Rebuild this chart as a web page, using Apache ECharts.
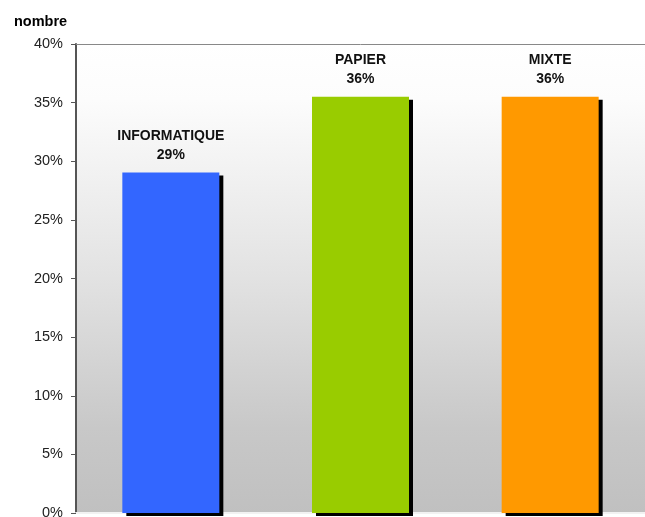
<!DOCTYPE html>
<html>
<head>
<meta charset="utf-8">
<script src="https://cdn.jsdelivr.net/npm/echarts@6/dist/echarts.min.js"></script>
<style>
html,body{margin:0;padding:0;background:#fff;}
#main{width:645px;height:517px;}
</style>
</head>
<body>
<div id="main"></div>
<script>
// categories and values (percent)
var categories = ['INFORMATIQUE', 'PAPIER', 'MIXTE'];
var values = [29.03, 35.5, 35.5];
var colors = ['#3366ff', '#99cc00', '#ff9900'];
var yTicks = [0, 5, 10, 15, 20, 25, 30, 35, 40];

var myChart = echarts.init(document.getElementById('main'));

var option = {
    animation: false,
    title: {
        text: 'nombre',
        left: 9,
        top: 9,
        textStyle: {fontFamily: 'Liberation Sans', fontSize: 14.5, fontWeight: 'bold', color: '#000'}
    },
    grid: {
        left: 76, right: 0, top: 44, bottom: 4,
        outerBoundsMode: 'none',
        show: true,
        borderWidth: 0,
        backgroundColor: {
            type: 'linear', x: 0, y: 0, x2: 0, y2: 1,
            colorStops: [
                {offset: 0, color: '#ffffff'},
                {offset: 0.12, color: '#fcfcfc'},
                {offset: 0.5, color: '#e2e2e2'},
                {offset: 0.82, color: '#c8c8c8'},
                {offset: 1, color: '#c0c0c0'}
            ]
        }
    },
    xAxis: [{
        type: 'category',
        data: categories,
        axisLine: {lineStyle: {color: '#f2f2f2', width: 2}},
        axisTick: {show: false},
        axisLabel: {show: false}
    }, {
        type: 'category',
        position: 'top',
        data: categories,
        axisLine: {lineStyle: {color: '#888', width: 1}},
        axisTick: {show: false},
        axisLabel: {show: false}
    }],
    yAxis: {
        type: 'value',
        min: 0, max: 40, interval: 5,
        axisLine: {show: true, lineStyle: {color: '#555', width: 2}},
        axisTick: {show: true, length: 5, lineStyle: {color: '#555'}},
        splitLine: {show: false},
        axisLabel: {
            formatter: function (v) { return yTicks.indexOf(v) >= 0 ? v + '%' : ''; },
            fontFamily: 'Liberation Sans', fontSize: 14.5, color: '#222', margin: 13
        }
    },
    series: [{
        type: 'bar',
        barWidth: 97,
        data: values.map(function (v, i) {
            return {value: v, itemStyle: {color: colors[i]}};
        }),
        itemStyle: {
            shadowColor: '#000',
            shadowBlur: 0,
            shadowOffsetX: 4,
            shadowOffsetY: 3
        },
        label: {
            show: true,
            position: 'top',
            distance: 8,
            align: 'center',
            lineHeight: 19,
            fontFamily: 'Liberation Sans',
            fontSize: 14,
            fontWeight: 'bold',
            color: '#111',
            formatter: function (p) { return p.name + '\n' + Math.round(p.value) + '%'; }
        }
    }]
};
myChart.setOption(option);
</script>
</body>
</html>
